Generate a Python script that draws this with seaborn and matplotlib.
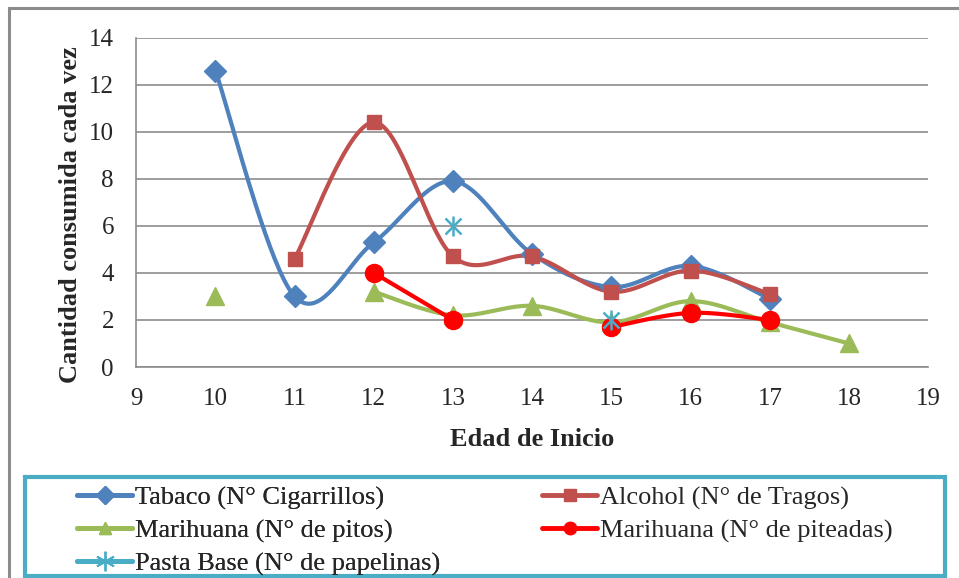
import numpy as np
import pandas as pd
import matplotlib
matplotlib.use("Agg")
import matplotlib.pyplot as plt
import seaborn as sns
from matplotlib.lines import Line2D
from matplotlib.patches import Rectangle

# data (NaN = no value at that age)
edad = [10, 11, 12, 13, 14, 15, 16, 17, 18]
tabaco = [12.6, 3.0, 5.3, 7.9, 4.8, 3.4, 4.3, 2.9, np.nan]
alcohol = [np.nan, 4.6, 10.4, 4.7, 4.7, 3.2, 4.1, 3.1, np.nan]
mar_pitos = [3.0, np.nan, 3.2, 2.2, 2.6, 1.9, 2.8, 1.9, 1.0]
mar_piteadas = [np.nan, np.nan, 4.0, 2.0, np.nan, 1.7, 2.3, 2.0, np.nan]
pasta_base = [np.nan, np.nan, np.nan, 6.0, np.nan, 2.0, np.nan, np.nan, np.nan]

series = [
    ("Tabaco (N° Cigarrillos)", tabaco, "#4F81BD", "D", 11),
    ("Alcohol (N° de Tragos)", alcohol, "#C0504D", "s", 10),
    ("Marihuana (N° de pitos)", mar_pitos, "#9BBB59", "^", 13),
    ("Marihuana (N° de piteadas)", mar_piteadas, "#FF0000", "o", 13),
    ("Pasta Base (N° de papelinas)", pasta_base, "#4BACC6", "x", 11),
]


def smooth(xs, ys, n=40):
    # Excel-like smoothed line (Catmull-Rom through the points)
    p = np.column_stack([xs, ys])
    if len(p) < 3:
        return p[:, 0], p[:, 1]
    ext = np.vstack([p[0], p, p[-1]])
    out = []
    t = np.linspace(0, 1, n)[:, None]
    for i in range(1, len(ext) - 2):
        p0, p1, p2, p3 = ext[i - 1], ext[i], ext[i + 1], ext[i + 2]
        c1 = p1 + (p2 - p0) / 6
        c2 = p2 - (p3 - p1) / 6
        seg = ((1 - t) ** 3) * p1 + 3 * ((1 - t) ** 2) * t * c1 + 3 * (1 - t) * t ** 2 * c2 + t ** 3 * p2
        out.append(seg)
    out = np.vstack(out)
    return out[:, 0], out[:, 1]


sns.set_style("white")
plt.rcParams['font.family'] = ['Liberation Serif', 'DejaVu Serif']

fig = plt.figure(figsize=(9.59, 5.78), dpi=100)
ax = fig.add_axes([0.142, 0.365, 0.826, 0.570])

for name, vals, col, mk, ms in series:
    df = pd.DataFrame({"x": edad, "y": vals})
    grp = df["y"].isna().cumsum()
    for _, part in df.dropna().groupby(grp[df["y"].notna()]):
        if len(part) > 1 and mk != "x":
            sx, sy = smooth(part["x"].values, part["y"].values)
            sns.lineplot(x=sx, y=sy, ax=ax, color=col, lw=3, sort=False,
                         estimator=None, zorder=2)
    d = df.dropna()
    if mk == "x":
        # asterisk: an x with a vertical stroke
        ax.plot(d["x"], d["y"], linestyle="none", marker="x", ms=ms, mew=1.8,
                color=col, zorder=4)
        ax.plot(d["x"], d["y"], linestyle="none", marker="|", ms=ms + 3, mew=1.8,
                color=col, zorder=4)
    else:
        ax.plot(d["x"], d["y"], linestyle="none", marker=mk, ms=ms, color=col,
                mec=col, zorder=3)

ax.set_xlim(9, 19)
ax.set_ylim(0, 14)
ax.set_xticks(range(9, 20))
ax.set_yticks(range(0, 15, 2))
ax.grid(axis="y", color="#8C8C8C", lw=1.2)
ax.set_axisbelow(True)
for s in ["top", "right"]:
    ax.spines[s].set_visible(False)
for s in ["left", "bottom"]:
    ax.spines[s].set_color("#8C8C8C")
    ax.spines[s].set_linewidth(1.2)
ax.tick_params(axis="both", direction="out", length=6, width=1.2, color="#8C8C8C",
               labelsize=18, pad=5)
ax.tick_params(axis="y", pad=10)
ax.tick_params(axis="x", pad=9)
ax.set_xlabel("Edad de Inicio", fontsize=19, fontweight="bold", labelpad=13)
ax.set_ylabel("Cantidad consumida cada vez", fontsize=19, fontweight="bold")
ax.yaxis.set_label_coords(-0.068, 0.462)

# outer chart border
fig.patches.append(Rectangle((9 / 959, -0.01), 1.0, 1 - 8 / 578 + 0.01,
                             transform=fig.transFigure, fill=False,
                             ec="#8C8C8C", lw=2.2))
# legend box
fig.patches.append(Rectangle((25 / 959, 2 / 578), 920 / 959, 99 / 578,
                             transform=fig.transFigure, fill=False,
                             ec="#4BACC6", lw=3))

handles = []
for name, vals, col, mk, ms in series:
    if mk == "x":
        h = Line2D([], [], color=col, lw=3.5, marker=(6, 2, 0), ms=14, mew=1.2)
    else:
        h = Line2D([], [], color=col, lw=3.5, marker=mk, ms=9)
    handles.append(h)
labels = [s[0] for s in series]

leg_kw = dict(frameon=False, fontsize=19, handlelength=2.1, handletextpad=0.1,
              borderaxespad=0, borderpad=0, labelspacing=0.34, loc="upper left")
leg1 = fig.legend([handles[0], handles[2], handles[4]], [labels[0], labels[2], labels[4]],
                  bbox_to_anchor=(77 / 959, 1 - 486 / 578), **leg_kw)
fig.add_artist(leg1)
leg2 = fig.legend([handles[1], handles[3]], [labels[1], labels[3]],
                  bbox_to_anchor=(542 / 959, 1 - 486 / 578), **leg_kw)

fig.savefig("out.png", dpi=100)
